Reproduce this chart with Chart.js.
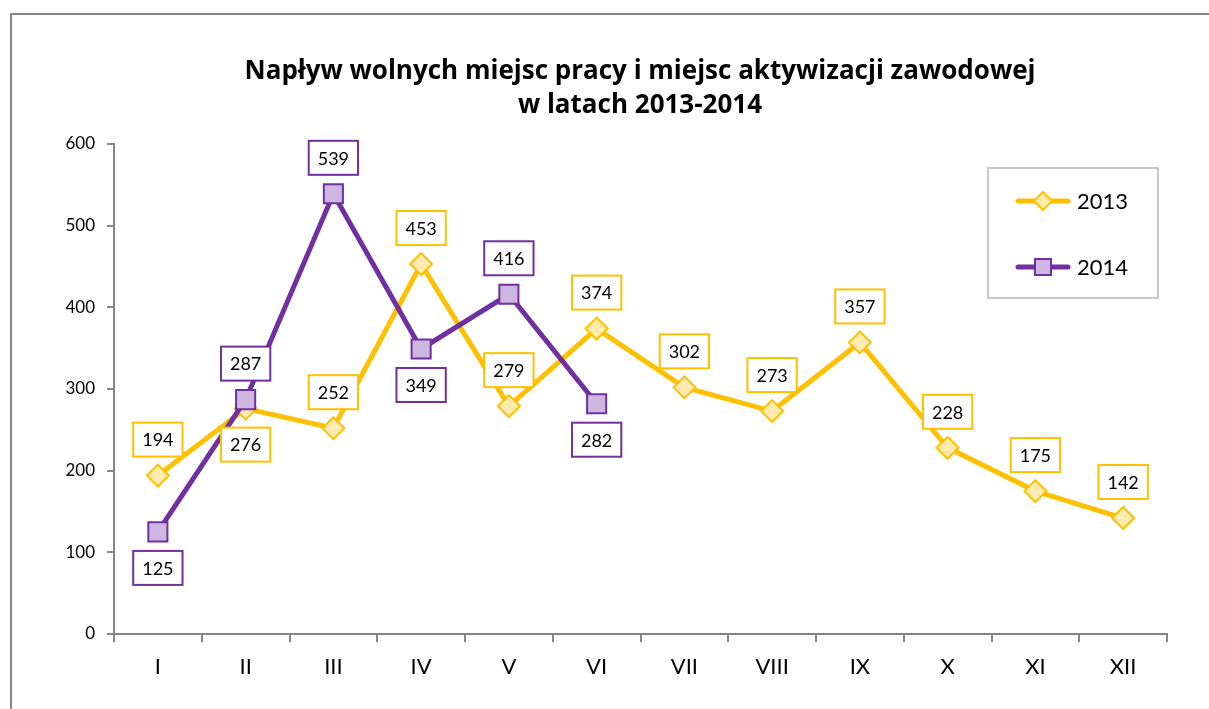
<!DOCTYPE html>
<html>
<head>
<meta charset="utf-8">
<script src="https://cdn.jsdelivr.net/npm/chart.js@4"></script>
<style>
  body { margin: 0; background: #fff; }
  #wrap { position: relative; width: 1209px; height: 709px; overflow: hidden; }
  #frame { position: absolute; left: 10px; top: 13px; width: 1300px; height: 800px; border: 2px solid #868686; }
  #chart { position: absolute; left: 0; top: 0; }
</style>
</head>
<body>
<div id="wrap">
  <div id="frame"></div>
  <canvas id="chart" width="1209" height="709"></canvas>
</div>
<script>
// dane
const months = ["I", "II", "III", "IV", "V", "VI", "VII", "VIII", "IX", "X", "XI", "XII"];
const values2013 = [194, 276, 252, 453, 279, 374, 302, 273, 357, 228, 175, 142];
const values2014 = [125, 287, 539, 349, 416, 282];
const yTicks = [0, 100, 200, 300, 400, 500, 600];
const titleLines = ["Napływ wolnych miejsc pracy i miejsc aktywizacji zawodowej", "w latach 2013-2014"];

const FONT = "Lato, 'Open Sans', sans-serif";

// tytuł (przesunięty w prawo jak w oryginale)
const chartTitle = {
    id: "chartTitle",
    afterDraw(chart) {
        const ctx = chart.ctx;
        ctx.save();
        ctx.font = "bold 26px 'Open Sans', sans-serif";
        ctx.fillStyle = "#000";
        ctx.textAlign = "center";
        ctx.textBaseline = "middle";
        ctx.fillText(titleLines[0], 640, 72);
        ctx.fillText(titleLines[1], 640, 106);
        ctx.restore();
    }
};

// etykiety danych w ramkach
const boxLabels = {
    id: "boxLabels",
    afterDatasetsDraw(chart, args, opts) {
        const ctx = chart.ctx;
        ctx.save();
        ctx.font = "18px " + FONT;
        ctx.textAlign = "center";
        ctx.textBaseline = "middle";
        chart.data.datasets.forEach((ds, di) => {
            const meta = chart.getDatasetMeta(di);
            const below = opts.below[di] || [];
            meta.data.forEach((pt, i) => {
                const txt = String(ds.data[i]);
                const w = ctx.measureText(txt).width + 18;
                const h = 34;
                const cy = below.includes(i) ? pt.y + 36 : pt.y - 36;
                ctx.fillStyle = "#fff";
                ctx.fillRect(pt.x - w / 2, cy - h / 2, w, h);
                ctx.strokeStyle = ds.borderColor;
                ctx.lineWidth = 2;
                ctx.strokeRect(pt.x - w / 2, cy - h / 2, w, h);
                ctx.fillStyle = "#000";
                ctx.fillText(txt, pt.x, cy + 1);
            });
        });
        ctx.restore();
    }
};

// legenda w ramce
const boxLegend = {
    id: "boxLegend",
    afterDraw(chart) {
        const ctx = chart.ctx;
        ctx.save();
        ctx.strokeStyle = "#c8c8c8";
        ctx.lineWidth = 2;
        ctx.strokeRect(988, 168, 170, 130);
        ctx.font = "22px " + FONT;
        ctx.textBaseline = "middle";
        ctx.textAlign = "left";
        const rows = [201, 267];
        chart.data.datasets.forEach((ds, i) => {
            const y = rows[i];
            ctx.strokeStyle = ds.borderColor;
            ctx.lineWidth = 5;
            ctx.lineCap = "round";
            ctx.beginPath();
            ctx.moveTo(1018, y);
            ctx.lineTo(1068, y);
            ctx.stroke();
            ctx.fillStyle = ds.pointBackgroundColor;
            ctx.strokeStyle = ds.pointBorderColor;
            ctx.lineWidth = 2;
            ctx.beginPath();
            if (ds.pointStyle === "rect") {
                ctx.rect(1043 - 8, y - 8, 16, 16);
            } else {
                const r = 9;
                ctx.moveTo(1043, y - r); ctx.lineTo(1043 + r, y);
                ctx.lineTo(1043, y + r); ctx.lineTo(1043 - r, y);
                ctx.closePath();
            }
            ctx.fill();
            ctx.stroke();
            ctx.fillStyle = "#000";
            ctx.fillText(ds.label, 1077, y + 1);
        });
        ctx.restore();
    }
};

new Chart(document.getElementById("chart"), {
    type: "line",
    data: {
        labels: months,
        datasets: [
            {
                label: "2013",
                data: values2013,
                borderColor: "#FFC000",
                borderWidth: 5,
                pointStyle: "rectRot",
                pointRadius: 11,
                pointBackgroundColor: "#FFEAB0",
                pointBorderColor: "#FFC000",
                pointBorderWidth: 2,
                tension: 0,
                order: 2
            },
            {
                label: "2014",
                data: values2014,
                borderColor: "#7030A0",
                borderWidth: 5,
                pointStyle: "rect",
                pointRadius: 13.5,
                pointBackgroundColor: "#CDB6DF",
                pointBorderColor: "#7030A0",
                pointBorderWidth: 2,
                tension: 0,
                order: 1
            }
        ]
    },
    options: {
        responsive: false,
        animation: false,
        layout: { padding: { left: 0, right: 42, top: 144, bottom: 0 } },
        plugins: {
            legend: { display: false },
            tooltip: { enabled: false },
            title: { display: false },
            boxLabels: { below: [[1], [0, 3, 5]] }
        },
        scales: {
            x: {
                offset: true,
                grid: { offset: true, drawOnChartArea: false, drawTicks: true, tickLength: 8, color: "#868686", lineWidth: 2 },
                border: { color: "#868686", width: 2 },
                ticks: { color: "#000", font: { family: FONT, size: 22 }, padding: 12 },
                afterFit(scale) { scale.height = 75; }
            },
            y: {
                min: 0,
                max: 600,
                afterBuildTicks(scale) { scale.ticks = yTicks.map(v => ({ value: v })); },
                grid: { drawOnChartArea: false, drawTicks: true, tickLength: 7, color: "#868686", lineWidth: 2 },
                border: { color: "#868686", width: 2 },
                ticks: { color: "#000", font: { family: FONT, size: 17 }, padding: 12 },
                afterFit(scale) { scale.width = 114; }
            }
        }
    },
    plugins: [boxLabels, boxLegend, chartTitle]
});
</script>
</body>
</html>
